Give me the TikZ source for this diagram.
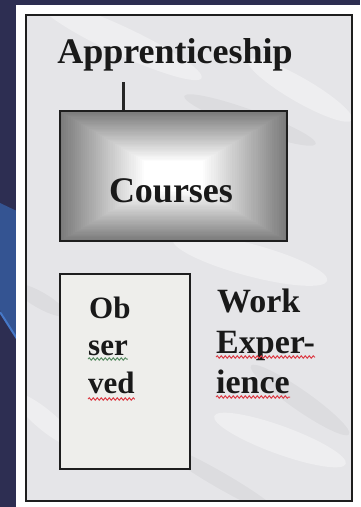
\documentclass[tikz,border=0pt]{standalone}
\usepackage{fontspec}
\setmainfont{Liberation Serif}
\usetikzlibrary{decorations.pathmorphing}
\definecolor{navy}{RGB}{45,46,82}
\definecolor{chev}{RGB}{52,84,146}
\definecolor{chevlight}{RGB}{70,120,200}
\definecolor{marble}{RGB}{229,229,232}
\definecolor{obsfill}{RGB}{238,238,235}
\definecolor{edge}{RGB}{30,30,30}
\definecolor{spellred}{RGB}{220,60,70}
\definecolor{spellgreen}{RGB}{90,140,100}
\tikzset{
  bigtext/.style={font=\bfseries\fontsize{36}{40}\selectfont, inner sep=0pt, text=black!90},
  midtext/.style={font=\bfseries\fontsize{34}{38}\selectfont, inner sep=0pt, text=black!90},
  obstext/.style={font=\bfseries\fontsize{31}{36}\selectfont, inner sep=0pt, text=black!90},
  boxline/.style={draw=edge, line width=1.8pt},
  wavy/.style={decorate, decoration={snake, segment length=4pt, amplitude=1.2pt}, line width=1pt},
  lightstreak/.style={fill=white, opacity=0.35},
  darkstreak/.style={fill=black, opacity=0.035}
}
\begin{document}
\begin{tikzpicture}[x=1pt,y=-1pt]
\useasboundingbox (0,0) rectangle (360,507);
% screen background
\fill[navy] (0,0) rectangle (360,507);
\begin{scope}
  \clip (0,0) rectangle (16,507);
  \fill[chev] (0,203) -- (40,222) -- (40,380) -- (0,310) -- cycle;
  \draw[chevlight, line width=2pt] (0,312) -- (40,375);
\end{scope}
% white panel
\fill[white] (16,5) rectangle (360,507);
% marble area
\fill[marble] (26,15) rectangle (352,501);
\begin{scope}
  \clip (26,15) rectangle (352,501);
  \fill[lightstreak, rotate around={-25:(120,40)}] (120,40) ellipse (90 and 14);
  \fill[lightstreak, rotate around={-30:(300,90)}] (300,90) ellipse (60 and 12);
  \fill[darkstreak, rotate around={-20:(250,120)}] (250,120) ellipse (70 and 10);
  \fill[lightstreak, rotate around={-15:(250,260)}] (250,260) ellipse (80 and 16);
  \fill[darkstreak, rotate around={-35:(300,400)}] (300,400) ellipse (60 and 10);
  \fill[lightstreak, rotate around={-20:(280,440)}] (280,440) ellipse (70 and 14);
  \fill[darkstreak, rotate around={-30:(40,300)}] (40,300) ellipse (30 and 8);
  \fill[darkstreak, rotate around={-30:(220,480)}] (220,480) ellipse (70 and 8);
  \fill[lightstreak, rotate around={-40:(45,420)}] (45,420) ellipse (40 and 10);
\end{scope}
\draw[boxline, line width=1.6pt] (26,15) rectangle (352,501);
% Courses box gradient
\foreach \i in {0,...,40}{
  \pgfmathsetmacro\c{52*(1-\i/40)}
  \fill[black!\c] (60+\i*2.1,111+\i*1.25) rectangle (287-\i*2.1,241-\i*1.25);
}
\node[boxline, minimum width=227pt, minimum height=130pt, inner sep=0pt] (coursesbox) at (173.5,176) {};
\node[bigtext, anchor=base] (courses) at (171,202) {Courses};
% Apprenticeship label and tick
\node[bigtext, anchor=base] (app) at (175,63) {Apprenticeship};
\coordinate (tick) at (123,82);
\draw[black!85, line width=3pt] (tick) -- (tick |- coursesbox.north);
% Observed box
\node[fill=obsfill, boxline, minimum width=130pt, minimum height=195pt, inner sep=0pt] (obsbox) at (125,371.5) {};
\node[obstext, anchor=base west] (obs1) at (89,318) {Ob};
\node[obstext, anchor=base west] (obs2) at (88,355) {ser};
\node[obstext, anchor=base west] (obs3) at (88,393) {ved};
% Work Experience
\node[midtext, anchor=base west] (work1) at (217,312) {Work};
\node[midtext, anchor=base west] (work2) at (216,353) {Exper-};
\node[midtext, anchor=base west] (work3) at (216,393) {ience};
% spelling underlines
\draw[wavy, spellgreen] ([yshift=-4pt]obs2.base west) -- ([yshift=-4pt]obs2.base east);
\draw[wavy, spellred] ([yshift=-6pt]obs3.base west) -- ([yshift=-6pt]obs3.base east);
\draw[wavy, spellred] ([yshift=-4pt]work2.base west) -- ([yshift=-4pt]work2.base east);
\draw[wavy, spellred] ([yshift=-4pt]work3.base west) -- ([yshift=-4pt]work3.base east);
\end{tikzpicture}
\end{document}
